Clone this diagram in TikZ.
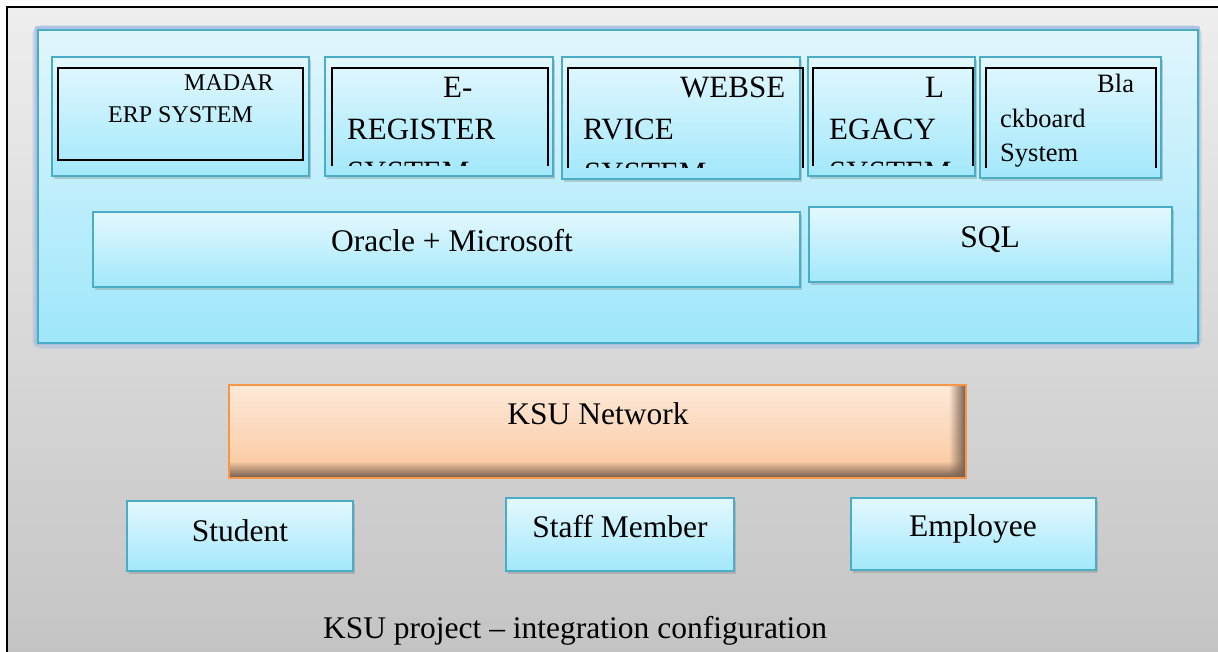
\documentclass[tikz,border=0pt]{standalone}
\usepackage{fontspec}
\setmainfont{Liberation Serif}
\usetikzlibrary{shadows,fadings}
\definecolor{acc}{HTML}{4BACC6}
\definecolor{lbTop}{HTML}{E4F8FE}
\definecolor{lbBot}{HTML}{A2E8FB}
\definecolor{pTop}{HTML}{E1F6FD}
\definecolor{pBot}{HTML}{9FE7FB}
\definecolor{glow}{HTML}{9DB9E0}
\definecolor{bgTop}{HTML}{EEEEEE}
\definecolor{bgBot}{HTML}{C4C4C4}
\definecolor{ksuT}{HTML}{FDE9D9}
\definecolor{ksuM}{HTML}{FBC79C}
\definecolor{ksuDark}{HTML}{7A6252}
\definecolor{ksuBorder}{HTML}{F79646}
\tikzfading[name=myfadeL, left color=transparent!100, right color=transparent!0]
\tikzfading[name=myfadeU, top color=transparent!100, bottom color=transparent!0]
\newcommand{\fz}[1]{\fontsize{#1}{#1}\selectfont}
\begin{document}
\begin{tikzpicture}[x=1pt,y=-1pt,
  bbox/.style={draw=acc, line width=1.6, top color=lbTop, bottom color=lbBot,
    drop shadow={opacity=0.35, shadow xshift=2pt, shadow yshift=-3pt},
    inner sep=0, outer sep=0, anchor=north west},
  inr/.style={draw=black, line width=2},
  big/.style={font=\fz{31.5}, inner sep=0, anchor=base},
  lbl/.style={inner sep=0, anchor=base west}]
\useasboundingbox (0,0) rectangle (1218,652);
\fill[white] (0,0) rectangle (1218,652);
% outer frame
\shade[top color=bgTop, bottom color=bgBot] (7,7) rectangle (1222,656);
\draw[line width=2] (7,660) -- (7,7) -- (1222,7);
% blue panel with glow
\draw[glow, line width=9, opacity=0.45, rounded corners=4] (37,30) rectangle (1197,344);
\draw[glow, line width=5, opacity=0.6] (37,29) rectangle (1197,342);
\node[draw=acc, line width=1.8, top color=pTop, bottom color=pBot, inner sep=0, anchor=north west,
  minimum width=1160, minimum height=313] (panel) at (37,29) {};
% top system boxes
\node[bbox, minimum width=257, minimum height=119] (b1) at (52,57) {};
\node[bbox, minimum width=228, minimum height=119] (b2) at (325,57) {};
\node[bbox, minimum width=238, minimum height=122] (b3) at (562,57) {};
\node[bbox, minimum width=167, minimum height=119] (b4) at (808,57) {};
\node[bbox, minimum width=181, minimum height=121] (b5) at (980,57) {};
% inner black frames
\draw[inr] (58,68) rectangle (303,160);
\draw[inr] (332,166) -- (332,68) -- (548,68) -- (548,166);
\draw[inr] (568,168) -- (568,68) -- (803,68) -- (803,168);
\draw[inr] (813,166) -- (813,68) -- (973,68) -- (973,166);
\draw[inr] (986,168) -- (986,68) -- (1156,68) -- (1156,168);
% texts in system boxes
\node[lbl, font=\fz{24}] (t1a) at (184,91) {MADAR};
\node[lbl, font=\fz{24}] (t1b) at (108,123) {ERP SYSTEM};
\begin{scope}
\clip (332,60) rectangle (548,166);
\node[lbl, font=\fz{31}] (t2a) at (443,98) {E-};
\node[lbl, font=\fz{31}] (t2b) at (347,140) {REGISTER};
\node[lbl, font=\fz{31}] (t2c) at (347,183) {SYSTEM};
\end{scope}
\begin{scope}
\clip (568,60) rectangle (803,168);
\node[lbl, font=\fz{31}] (t3a) at (680,98) {WEBSE};
\node[lbl, font=\fz{31}] (t3b) at (583,140) {RVICE};
\node[lbl, font=\fz{31}] (t3c) at (584,184) {SYSTEM};
\end{scope}
\begin{scope}
\clip (813,60) rectangle (973,166);
\node[lbl, font=\fz{31}] (t4a) at (925,98) {L};
\node[lbl, font=\fz{31}] (t4b) at (829,140) {EGACY};
\node[lbl, font=\fz{31}] (t4c) at (829,183) {SYSTEM};
\end{scope}
\node[lbl, font=\fz{26.5}] (t5a) at (1097,93) {Bla};
\node[lbl, font=\fz{26.5}] (t5b) at (1000,128) {ckboard};
\node[lbl, font=\fz{26.5}] (t5c) at (1000,162) {System};
% database boxes
\node[bbox, minimum width=707, minimum height=75] (ora) at (93,212) {};
\node[bbox, minimum width=363, minimum height=75] (sql) at (809,207) {};
\node[big] (oraT) at (452,252) {Oracle + Microsoft};
\node[big] (sqlT) at (990,248) {SQL};
% network
\node[top color=ksuT, bottom color=ksuM, inner sep=0, anchor=north west,
  minimum width=737, minimum height=93] (net) at (229,385) {};
\fill[ksuDark, path fading=myfadeL] (949,386) rectangle (965,477);
\fill[ksuDark, path fading=myfadeU] (230,461) rectangle (965,477);
\draw[ksuBorder, line width=2] (net.north west) rectangle (net.south east);
\node[big] (netT) at (598,424) {KSU Network};
% users
\node[bbox, minimum width=226, minimum height=70] (stu) at (127,501) {};
\node[bbox, minimum width=228, minimum height=73] (stf) at (506,498) {};
\node[bbox, minimum width=245, minimum height=72] (emp) at (851,498) {};
\node[big] (stuT) at (240,541) {Student};
\node[big] (stfT) at (620,537) {Staff Member};
\node[big] (empT) at (973,536) {Employee};
% caption
\node[big] (cap) at (575,638) {KSU project -- integration configuration};
\end{tikzpicture}
\end{document}
